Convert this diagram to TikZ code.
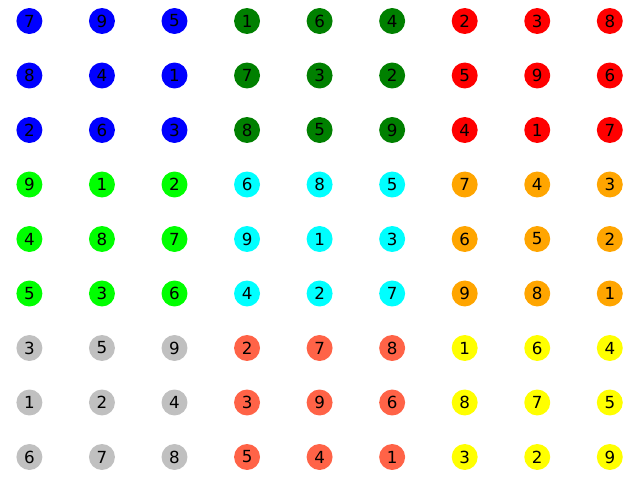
\documentclass[tikz,border=0pt]{standalone}
\usepackage{fontspec}
\setmainfont{DejaVu Sans}
\definecolor{mblue}{RGB}{0,0,255}
\definecolor{mgreen}{RGB}{0,128,0}
\definecolor{mred}{RGB}{255,0,0}
\definecolor{mlime}{RGB}{0,255,0}
\definecolor{mcyan}{RGB}{0,255,255}
\definecolor{morange}{RGB}{255,165,0}
\definecolor{msilver}{RGB}{192,192,192}
\definecolor{mtomato}{RGB}{255,99,71}
\definecolor{myellow}{RGB}{255,255,0}
\tikzset{cell/.style={circle,minimum size=18.7pt,inner sep=0pt,font=\fontsize{12}{12}\selectfont,text=black}}
\begin{document}
\begin{tikzpicture}[x=0.72pt,y=-0.72pt]
\useasboundingbox (0,0) rectangle (640,480);
\foreach \row [count=\r from 0] in {
 {7,9,5,1,6,4,2,3,8},
 {8,4,1,7,3,2,5,9,6},
 {2,6,3,8,5,9,4,1,7},
 {9,1,2,6,8,5,7,4,3},
 {4,8,7,9,1,3,6,5,2},
 {5,3,6,4,2,7,9,8,1},
 {3,5,9,2,7,8,1,6,4},
 {1,2,4,3,9,6,8,7,5},
 {6,7,8,5,4,1,3,2,9}}{
  \foreach \v [count=\c from 0] in \row {
    \pgfmathtruncatemacro{\br}{int(\r/3)}
    \pgfmathtruncatemacro{\bc}{int(\c/3)}
    \pgfmathtruncatemacro{\b}{3*\br+\bc}
    \ifcase\b \def\col{mblue}\or\def\col{mgreen}\or\def\col{mred}\or
      \def\col{mlime}\or\def\col{mcyan}\or\def\col{morange}\or
      \def\col{msilver}\or\def\col{mtomato}\or\def\col{myellow}\fi
    \node[cell,fill=\col] (n-\r-\c) at ({29.4+72.55*\c},{21+54.5*\r}) {\v};
  }
}
\end{tikzpicture}
\end{document}
